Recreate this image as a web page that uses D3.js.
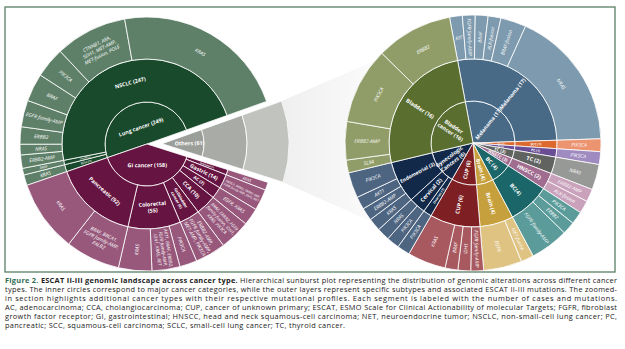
<!DOCTYPE html>
<html><head><meta charset="utf-8">
<script src="https://cdn.jsdelivr.net/npm/d3@7"></script>
<style>html,body{margin:0;padding:0;background:#fff;overflow:hidden}svg{display:block}</style>
</head><body>
<svg id="c" width="625" height="349"></svg>
<script>
// ===== DATA: left sunburst (all cancer types) =====
const leftGroup = [
 "Lung cancer (249)","Lung cancer (249)","Lung cancer (249)","Lung cancer (249)","Lung cancer (249)",
 "Lung cancer (249)","Lung cancer (249)","Lung cancer (249)","Lung cancer (249)","Lung cancer (249)",
 "Others (61)",
 "GI cancer (158)","GI cancer (158)","GI cancer (158)","GI cancer (158)","GI cancer (158)",
 "GI cancer (158)","GI cancer (158)","GI cancer (158)","GI cancer (158)","GI cancer (158)"];
const leftSub = [
 "SCLC (1)","Lung NET (1)","NSCLC (247)","NSCLC (247)","NSCLC (247)",
 "NSCLC (247)","NSCLC (247)","NSCLC (247)","NSCLC (247)","NSCLC (247)",
 "",
 "Esophageal (1)","Gastric (14)","AC (2)","CCA (10)","Gallbladder\ncancer (6)",
 "Colorectal\n(55)","Colorectal\n(55)","Colorectal\n(55)","Pancreatic (92)","Pancreatic (92)"];
const leftLeaf = [
 "KRAS","BRAF","ERBB2-AMP","NRAS","ERBB2",
 "EGFR family-AMP","BRAF","PIK3CA","CTNNB1, ARA,\nSDH1, MET-AMP,\nMET-fusion, POLE","KRAS",
 "",
 "KRAS","PIK3CA, ERBB2, ERBB2-AMP,\nFGFR family-AMP, KRAS, MET","EGFR, KRAS","BRAF, ERBB2, FGFR\nfamily-fusion, IDH1,\nKRAS, PIK3CA","ERBB2-AMP,\nFGFR family-AMP,\nMET-AMP, PIK3CA",
 "PIK3CA","AKT1, BRAF, ERBB2,\nFGFR family-AMP,\nIDH1, KRAS, RET","KRAS","BRAF, BRCA1,\nFGFR family-AMP,\nPALB2","KRAS"];
const leftValue = [8,5,10,8,13, 20,21,23,54,132, 61, 6,16,13,23,23, 13,21,25,41,54];

// ===== DATA: right sunburst (zoomed "Others") =====
const rightGroup = [
 "Melanoma (17)","Melanoma (17)","Melanoma (17)","Melanoma (17)","Melanoma (17)","Melanoma (17)",
 "SCC (1)","PC (1)","TC (2)","HNSCC (2)","HNSCC (2)",
 "BC (4)","BC (4)","BC (4)","Brain (4)","Brain (4)",
 "CUP (6)","CUP (6)","CUP (6)","CUP (6)",
 "Gynecologic\nCancers (6)","Gynecologic\nCancers (6)","Gynecologic\nCancers (6)","Gynecologic\nCancers (6)",
 "Gynecologic\nCancers (6)","Gynecologic\nCancers (6)","Gynecologic\nCancers (6)",
 "Bladder\ncancer (16)","Bladder\ncancer (16)","Bladder\ncancer (16)","Bladder\ncancer (16)"];
const rightSub = [
 "Melanoma (17)","Melanoma (17)","Melanoma (17)","Melanoma (17)","Melanoma (17)","Melanoma (17)",
 "SCC (1)","PC (1)","TC (2)","HNSCC (2)","HNSCC (2)",
 "BC(4)","BC(4)","BC(4)","Brain (4)","Brain (4)",
 "CUP (6)","CUP (6)","CUP (6)","CUP (6)",
 "Ovarian (1)","Cervical (2)","Cervical (2)","Endometrial (3)","Endometrial (3)","Endometrial (3)","Endometrial (3)",
 "Bladder (16)","Bladder (16)","Bladder (16)","Bladder (16)"];
const rightLeaf = [
 "KIT","FGFR family-AMP","BRAF","ALK-fusion","BRAF-fusion","NRAS",
 "PIK3CA","PIK3CA","NRAS","ERBB2-AMP","ALK-fusion",
 "PIK3CA","ERBB2","FGFR family-AMP","MET-fusion","EGFR",
 "FGFR family-AMP","IDH1","BRAF","KRAS",
 "PIK3CA","PIK3CA","NRAS","KRAS","ERBB2-AMP","AKT1","PIK3CA",
 "SLX4","ERBB2-AMP","PIK3CA","ERBB2"];
const rightValue = [1,1,1,1,2,11, 1,1,2,1,1, 1,1,3,1,3, 1,1,1,3, 1,1,1,1,1,1,2, 1,3,6,6];

// ===== caption =====
const captionTitle = ["Figure 2.", " ESCAT II-III genomic landscape across cancer type.", " Hierarchical sunburst plot representing the distribution of genomic alterations across different cancer"];
const captionLines = [
 "types. The inner circles correspond to major cancer categories, while the outer layers represent specific subtypes and associated ESCAT II-III mutations. The zoomed-",
 "in section highlights additional cancer types with their respective mutational profiles. Each segment is labeled with the number of cases and mutations.",
 "AC, adenocarcinoma; CCA, cholangiocarcinoma; CUP, cancer of unknown primary; ESCAT, ESMO Scale for Clinical Actionability of molecular Targets; FGFR, fibroblast",
 "growth factor receptor; GI, gastrointestinal; HNSCC, head and neck squamous-cell carcinoma; NET, neuroendocrine tumor; NSCLC, non-small-cell lung cancer; PC,",
 "pancreatic; SCC, squamous-cell carcinoma; SCLC, small-cell lung cancer; TC, thyroid cancer."];

// ===== styles =====
const palette = {
 "Lung cancer (249)": ["#1a4a2c","#1a4a2c","#5e8068"],
 "GI cancer (158)": ["#661441","#661441","#97587c"],
 "Others (61)": ["#9c9e9a","#a9aba7","#c1c3bf"],
 "Melanoma (17)": ["#486a87","#486a87","#7d9aae"],
 "SCC (1)": ["#dc6a2e","#dc6a2e","#ec9370"],
 "PC (1)": ["#6a4e95","#6a4e95","#a08bc0"],
 "TC (2)": ["#616360","#616360","#979996"],
 "HNSCC (2)": ["#a06c90","#a06c90","#c9a1bb"],
 "BC (4)": ["#1a6668","#1a6668","#5b9b99"],
 "Brain (4)": ["#c6a03c","#c6a03c","#dfc383"],
 "CUP (6)": ["#7e1f24","#7e1f24","#a8595f"],
 "Gynecologic\nCancers (6)": ["#12294a","#12294a","#4e6582"],
 "Bladder\ncancer (16)": ["#5a6e30","#5a6e30","#909d68"]
};
const orientOverride = {"Melanoma (17)":"rad","Bladder (16)":"rad","Bladder\ncancer (16)":"rad","Colorectal\n(55)":"tan"};
const FONT = '"Open Sans", "DejaVu Sans", sans-serif';
const svg = d3.select("#c");
const ctx = document.createElement("canvas").getContext("2d");
function textW(s, font){ ctx.font = font; return ctx.measureText(s).width; }

function build(groups, subs, leaves, values){
  const root = {name:"root", children:[]};
  groups.forEach((g,i)=>{
    let gn = root.children.find(c=>c.name===g);
    if(!gn){gn={name:g,children:[]}; root.children.push(gn);}
    let sn = gn.children.find(c=>c.name===subs[i]);
    if(!sn){sn={name:subs[i],children:[]}; gn.children.push(sn);}
    sn.children.push({name:leaves[i], value:values[i]});
  });
  const h = d3.hierarchy(root).sum(d=>d.value||0);
  return d3.partition().size([2*Math.PI, 1])(h);
}

const fanLayer = svg.append("g");

function drawSunburst(root, cx, cy, radii, offset, explodeName, explodeDist){
  const g = svg.append("g").attr("transform",`translate(${cx},${cy})`);
  const nodes = root.descendants().filter(d=>d.depth>0);
  const top = d => d.ancestors().find(a=>a.depth===1);
  const arc = d3.arc()
    .startAngle(d=>offset+d.x0).endAngle(d=>offset+d.x1)
    .innerRadius(d=>radii[d.depth-1]).outerRadius(d=>radii[d.depth]);
  const shift = d => {
    const t = top(d);
    if(explodeName && t.data.name===explodeName){
      const m = offset+(t.x0+t.x1)/2;
      return [explodeDist*Math.sin(m), -explodeDist*Math.cos(m)];
    }
    return [0,0];
  };
  g.selectAll("path.seg").data(nodes).join("path")
    .attr("class","seg")
    .attr("d",arc)
    .attr("transform",d=>{const s=shift(d);return `translate(${s[0]},${s[1]})`;})
    .attr("fill",d=>palette[top(d).data.name][d.depth-1])
    .attr("stroke","#fff").attr("stroke-width",0.8);

  nodes.filter(d=>d.data.name).forEach(d=>{
    const leaf = d.depth===3;
    const base = leaf ? 5.0 : 5.4;
    const font = (leaf?"italic 400 ":"700 ") + "10px " + FONT;
    const lines = d.data.name.split("\n");
    const w10 = d3.max(lines, l=>textW(l,font));
    const w = w10*base/10, h = lines.length*1.2*base;
    const span = d.x1-d.x0;
    const mid = offset+(d.x0+d.x1)/2;
    const rin = radii[d.depth-1], rout = radii[d.depth];
    let rc, tanW, tanH, radW, radH;
    if(d.depth===1){
      const a = Math.min(span,2*Math.PI)/2;
      rc = (2/3)*rout*Math.sin(a)/a;
      tanW = 2*rout*Math.sin(Math.min(a,Math.PI/2))*0.85; tanH = rout*0.7;
      radW = rout*1.0; radH = 2*rc*Math.sin(Math.min(a,Math.PI/2));
    } else {
      rc = (rin+rout)/2;
      tanW = span>Math.PI ? 2*rc : rc*span; tanH = rout-rin;
      radW = rout-rin; radH = span>Math.PI ? 2*rin : rin*span;
    }
    const sTan = Math.min(tanW/w, tanH/h), sRad = Math.min(radW/w, radH/h);
    const ov = orientOverride[d.data.name];
    const useTan = ov ? ov==="tan" : sTan >= sRad;
    const sc = Math.min(1, (useTan?sTan:sRad)*0.92);
    const fs = base*sc;
    let deg = mid*180/Math.PI; deg = ((deg%360)+360)%360;
    let rot;
    if(useTan){ rot = deg; if(rot>90 && rot<270) rot-=180; else if(rot>=270) rot-=360; }
    else { rot = deg-90; if(deg>180) rot = deg-270; }
    const s = shift(d);
    const x = s[0]+rc*Math.sin(mid), y = s[1]-rc*Math.cos(mid);
    const t = g.append("text")
      .attr("transform",`translate(${x},${y}) rotate(${rot})`)
      .attr("text-anchor","middle")
      .attr("fill","#fff")
      .attr("font-family",FONT)
      .attr("font-size",fs)
      .attr("font-weight",leaf?400:700)
      .attr("font-style",leaf?"italic":"normal");
    lines.forEach((l,i)=>{
      t.append("tspan").attr("x",0)
       .attr("dy", i===0 ? ((-(lines.length-1)/2)*1.2*fs + 0.35*fs) : 1.2*fs)
       .text(l);
    });
  });
}

const L = {cx:147, cy:144, radii:[0,42,85,127], offset:251*Math.PI/180};
const leftRoot = build(leftGroup,leftSub,leftLeaf,leftValue);
const R = {cx:473, cy:143, radii:[0,42,84,128], offset:-10.6*Math.PI/180};
const rightRoot = build(rightGroup,rightSub,rightLeaf,rightValue);

(function(){
  const oth = leftRoot.children.find(c=>c.data.name==="Others (61)");
  const m = L.offset+(oth.x0+oth.x1)/2, dist=15;
  const dx = dist*Math.sin(m), dy = -dist*Math.cos(m);
  const r = L.radii[3];
  const p = a => [L.cx+dx+r*Math.sin(a), L.cy+dy-r*Math.cos(a)];
  const a0 = L.offset+oth.x0, a1 = L.offset+oth.x1;
  const q = a => [R.cx+R.radii[3]*Math.sin(a), R.cy-R.radii[3]*Math.cos(a)];
  const defs = svg.append("defs");
  const gr = defs.append("linearGradient").attr("id","fan").attr("x1","0").attr("x2","1").attr("y1","0").attr("y2","0");
  gr.append("stop").attr("offset","0").attr("stop-color","#eeefee");
  gr.append("stop").attr("offset","1").attr("stop-color","#fbfbfb");
  const pts = [p(a0), q(310*Math.PI/180), q(232*Math.PI/180), p(a1)];
  fanLayer.append("path").attr("d","M"+pts.map(d=>d.join(",")).join("L")+"Z").attr("fill","url(#fan)");
})();

drawSunburst(leftRoot, L.cx, L.cy, L.radii, L.offset, "Others (61)", 15);
drawSunburst(rightRoot, R.cx, R.cy, R.radii, R.offset, null, 0);

svg.append("rect").attr("x",5).attr("y",7).attr("width",610).attr("height",265)
  .attr("fill","none").attr("stroke","#5a7f66").attr("stroke-width",1.3);

// caption
const capFont = '"Open Sans", Lato, sans-serif';
const cap = svg.append("g").attr("font-family",capFont).attr("font-size",7.4).attr("fill","#222");
const t1 = cap.append("text").attr("x",5).attr("y",283).attr("textLength",612).attr("lengthAdjust","spacing");
t1.append("tspan").attr("font-weight",700).attr("fill","#2c6b50").text(captionTitle[0]);
t1.append("tspan").attr("font-weight",700).text(captionTitle[1]);
t1.append("tspan").text(captionTitle[2]);
captionLines.forEach((l,i)=>{
  const t = cap.append("text").attr("x",5).attr("y",283+(i+1)*8.9).text(l);
  t.attr("textLength", i<captionLines.length-1 ? 612 : 340).attr("lengthAdjust","spacing");
});
</script>
</body></html>
